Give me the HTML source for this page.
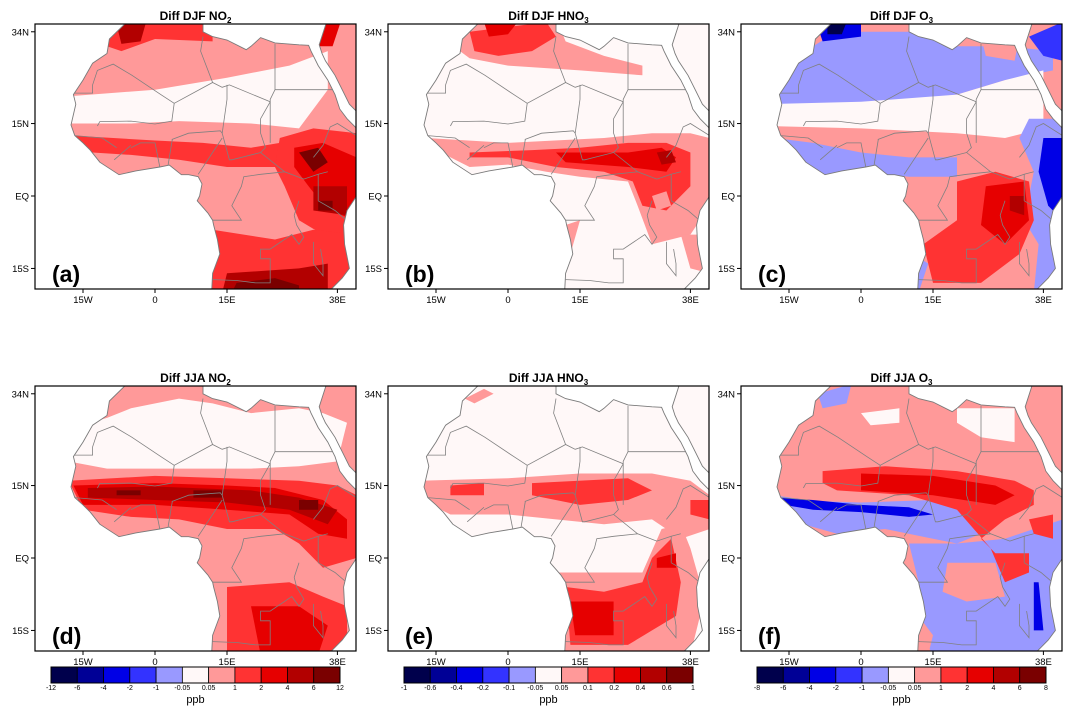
<!DOCTYPE html>
<html><head><meta charset="utf-8">
<style>
html,body{margin:0;padding:0;background:#fff;}
svg{display:block;font-family:"Liberation Sans","DejaVu Sans",sans-serif;}
</style></head>
<body>
<svg id="fig" width="1073" height="717" viewBox="0 0 1073 717" xmlns="http://www.w3.org/2000/svg"></svg>
<script>
// ---- data ----
const levelColors=["#00004c","#000096","#0000e6","#3333ff","#9999ff","#fff8f8","#ff9999","#ff3333","#e60000","#b20000","#7a0000"];
const latTicks=[34,15,0,-15];
const latTickLabels=["34N","15N","EQ","15S"];
const lonTicks=[-15,0,15,38];
const lonTickLabels=["15W","0","15E","38E"];
const cbLabelsNO2=["-12","-6","-4","-2","-1","-0.05","0.05","1","2","4","6","12"];
const cbLabelsHNO3=["-1","-0.6","-0.4","-0.2","-0.1","-0.05","0.05","0.1","0.2","0.4","0.6","1"];
const cbLabelsO3=["-8","-6","-4","-2","-1","-0.05","0.05","1","2","4","6","8"];
const africa=[[-6,35.9],[-9.5,32.5],[-10,29.5],[-13,27.5],[-15,24],[-17,21],[-16.5,19],[-17.5,14.7],[-16.7,12.5],[-15,11],[-13.5,9.5],[-11.5,7],[-7.5,4.4],[-4,5.2],[1,6],[3,6.4],[5.5,4.4],[7,4.4],[9,4],[9.8,2.5],[9.3,0],[8.8,-1],[11,-3.5],[12,-5],[12.2,-6],[13,-9],[13.5,-12],[12,-16],[11.8,-20],[36,-20],[39,-17],[40.5,-15],[39.5,-10],[39.3,-6],[40,-3],[42,0],[42,14],[40,16],[38.5,18],[37.5,21],[36,24],[34,27],[32.5,30],[32,31.2],[30,31.3],[25,31.7],[22,32.8],[20,31],[19,30.3],[15,32.3],[12,33],[10,34],[10,37],[-6,37]];
const arabia=[[34.2,31.3],[35.9,36.5],[42.5,36.5],[42.5,17],[40.5,19],[39,22],[37.5,25],[35.5,28],[34.8,29.5]];
const borders=[
 [[-17,21.3],[-13,21.3],[-13,23],[-12,26],[-8.7,27.3],[-4.8,25],[1.2,21],[4,19.2],[12,23.5],[14,22.5],[15.5,23],[24,19.5],[24,20],[25,22],[25,31.5]],
 [[25,22],[37,22]],
 [[4,19.2],[3.5,15.5],[0,14.9],[-5,15.5],[-11.5,15.4],[-12,14.5]],
 [[3.5,11.7],[7,13],[13.6,13.5],[14,13]],
 [[24,19.5],[22,16],[22,13],[23,10],[22,9]],
 [[14,13],[15.5,7.5],[16,7.5],[22,9],[27,5],[31,3.5],[34,4.5],[36,5]],
 [[12,-5],[18,-5],[16,-2],[18,2],[18.5,4],[22,4.5],[27,5]],
 [[30,-1],[29,-4],[29.5,-6],[31,-8.5],[30,-10],[28.5,-8],[24,-11],[22,-11],[22,-13],[24,-13],[24,-18],[21,-18],[17,-17.5],[12,-17.3]],
 [[34,-1],[37.5,-3],[39.5,-4.7]],[[34,4.5],[34,-1]],
 [[33,-9.5],[33,-14],[35,-16.5],[35,-14],[34.5,-11]],
 [[33,8],[35,10.5],[36.5,14.3],[38,15],[42,12.5]],
 [[12,23.5],[9.5,30],[10,33]],
 [[-5,10],[-3,11],[0,11],[1,6]],[[-8.5,7.5],[-5,10.5]],[[2.7,6.3],[3.6,11.7]],[[9,4.5],[14,12]],
 [[-8,10],[-11,12],[-16.7,12.5]],[[15,23],[15,20],[14,13]],[[24,19.5],[24,11]]
];
const shapesA=[
 [5,[[-20,20.5],[0,22],[15,24.5],[28,27],[36,30],[36,22],[30,14],[20,15],[5,15.5],[-5,15],[-20,15]]],
 [7,[[-10,37],[12,37],[12,32],[0,32.5],[-7,30],[-10,31]]],
 [9,[[-8,35.5],[-2,35.5],[-3,32],[-7,31.5]]],
 [7,[[-17,12.5],[0,11.5],[10,11],[20,10],[26,11],[26,6],[15,6],[5,7.5],[-5,8.5],[-13,9]]],
 [7,[[26,12],[33,14],[42,13],[42,-10],[35,-8],[30,-5],[27,2],[25,6]]],
 [8,[[29,10],[35,11],[42,8],[42,-5],[36,-3],[32,2],[29,6]]],
 [10,[[30,9],[34,10],[36,7],[33,5]]],
 [9,[[33,2],[40,2],[40,-4],[33,-3]]],
 [10,[[34,-1],[37,-1],[37,-3],[34,-3]]],
 [7,[[12,-7],[25,-9],[33,-7],[42,-8],[42,-20],[10,-20]]],
 [9,[[15,-16],[30,-15],[36,-14],[36,-20],[14,-20]]],
 [10,[[17,-18],[25,-17],[30,-18.5],[30,-20],[16,-20]]],
 [8,[[34,31],[36,37],[39,37],[37,31]]]
];
const shapesB=[
 [6,[[-10,36],[10,37],[12,32],[20,29],[28,27],[28,25],[15,26],[0,27],[-8,28.5],[-10,30]]],
 [7,[[-8,34],[8,36],[10,33],[5,30],[-2,29],[-7,30]]],
 [8,[[-5,36],[2,36],[0,33.5],[-4,33]]],
 [6,[[-17,12],[0,11],[20,12],[30,13],[38,13],[42,12],[42,-2],[38,-8],[30,-10],[27,-2],[25,3],[15,4],[8,5],[0,6.5],[-8,6],[-14,9]]],
 [7,[[-8,9],[5,9.5],[15,10],[25,11],[33,11],[38,9],[38,2],[33,-3],[28,-2],[26,3],[20,5],[10,6],[0,8],[-8,8]]],
 [8,[[10,9],[25,9],[32,10],[35,8],[33,5],[25,6],[12,7]]],
 [9,[[31,9],[34,9.5],[35,7],[32,6.5]]],
 [6,[[30,0],[33,1],[34,-2],[31,-3]]],
 [6,[[12,-6],[15,-5],[13,-12],[11,-13]]],
 [6,[[36,-8],[42,-8],[42,-16],[38,-15]]]
];
const shapesC=[
 [4,[[-20,22],[-17,28],[-10,31],[-5,34],[10,34],[20,31],[30,31],[40,30],[40,26],[30,24],[20,21],[10,20],[0,19],[-10,18.5],[-20,19]]],
 [5,[[-20,19],[0,19.5],[20,21],[30,24],[38,26],[38,14],[30,12],[20,13],[0,14],[-20,14.5]]],
 [6,[[25,33],[33,33],[32,28],[26,29]]],
 [2,[[-9,35],[0,36.5],[0,33],[-8,32]]],
 [0,[[-7,36],[-3,36],[-4,33.5],[-7,33.5]]],
 [4,[[-18,12],[-10,11],[0,9],[10,8],[20,8],[20,4],[10,4],[0,5],[-8,4],[-15,8]]],
 [4,[[35,16],[42,16],[42,-20],[36,-20],[37,-10],[34,-5],[36,5],[33,12]]],
 [2,[[38,12],[42,12],[42,-5],[39,-2],[37,5]]],
 [7,[[20,3],[28,5],[35,3],[36,-5],[33,-12],[25,-18],[15,-18],[13,-10],[20,-5]]],
 [8,[[26,2],[34,3],[35,-5],[30,-10],[25,-6]]],
 [9,[[31,0],[34,0],[34,-4],[31,-3]]],
 [4,[[11,-12],[14,-14],[12,-20],[11,-20]]],
 [3,[[35,33],[42,36],[42,28],[38,29]]]
];
const shapesD=[
 [5,[[-18,20],[-17,27],[-10,29],[-5,31],[5,33],[12,32],[20,30],[30,31],[35,30],[40,28],[38,20],[30,19],[20,18.5],[5,18.5],[-10,18.5]]],
 [7,[[-18,16],[0,17],[15,16.5],[30,16],[38,15],[42,13],[42,0],[35,-2],[30,3],[25,6],[15,6],[5,8],[-5,8.5],[-15,10]]],
 [8,[[-17,15],[0,15.5],[15,15],[25,14.5],[35,12],[40,8],[40,4],[34,5],[28,9],[15,10],[0,11],[-15,11]]],
 [9,[[-14,14.5],[0,14.8],[20,14],[30,12.5],[38,10],[36,7],[28,10],[15,11.5],[0,12],[-14,12.5]]],
 [10,[[-8,14],[-3,14],[-3,13],[-8,13]]],
 [10,[[8,14],[14,14],[14,12.5],[8,12.5]]],
 [10,[[30,12],[34,12],[34,10],[30,10]]],
 [7,[[15,-6],[28,-5],[35,-8],[40,-10],[40,-20],[15,-20]]],
 [8,[[20,-10],[30,-10],[36,-14],[34,-20],[22,-20]]]
];
const shapesE=[
 [6,[[-9,33],[-5,35],[-3,34],[-7,32]]],
 [6,[[-18,16],[0,16.5],[15,17.5],[30,17.5],[38,16],[42,13],[42,6],[36,4],[30,8],[20,7],[10,8],[0,9],[-12,9],[-18,12]]],
 [7,[[-12,15],[-5,15.5],[-5,13],[-12,13]]],
 [7,[[5,15.5],[25,16.5],[30,14],[25,12],[15,11],[5,13]]],
 [7,[[38,12],[42,12],[42,8],[38,9]]],
 [6,[[10,-3],[20,-3],[28,-3],[32,6],[36,7],[38,2],[40,-5],[40,-12],[38,-20],[12,-20]]],
 [7,[[12,-6],[20,-7],[28,-5],[30,0],[34,4],[36,-5],[35,-12],[30,-15],[25,-18],[13,-18]]],
 [8,[[13,-9],[22,-9],[22,-16],[14,-16]]],
 [8,[[31,0],[35,1],[35,-2],[31,-2]]]
];
const shapesF=[
 [5,[[20,31],[32,31],[32,24],[25,25],[20,28]]],
 [5,[[0,30],[8,31],[8,28],[2,27.5]]],
 [4,[[-9,34],[-2,36],[-3,32],[-8,31]]],
 [4,[[-18,13],[-10,11.8],[0,11.5],[15,12],[25,9],[25,5],[20,3],[15,4],[5,6],[-5,5],[-12,7],[-18,10]]],
 [2,[[-17,12.5],[-10,12],[0,11],[10,10.5],[15,9],[10,8.5],[0,9.5],[-10,10],[-16,11]]],
 [4,[[10,3],[20,3],[30,4],[36,6],[42,8],[42,-20],[15,-20],[12,-15],[12,-5]]],
 [6,[[18,-1],[28,-1],[30,-8],[22,-9],[17,-7]]],
 [6,[[12,-12],[15,-16],[14,-20],[11,-20]]],
 [7,[[-8,18],[5,19],[20,18],[32,16],[36,14],[36,11],[30,8],[25,4],[28,1],[35,1],[35,-3],[30,-5],[27,2],[20,10],[10,13],[-5,14],[-8,15.5]]],
 [8,[[0,17.5],[15,17],[28,15],[32,13],[28,11],[15,13],[0,14]]],
 [7,[[35,8],[40,9],[40,4],[36,5]]],
 [2,[[36,-5],[37,-5],[38,-15],[36,-15]]]
];
const panels=[
 {id:"a",x:35,y:24,species:"NO",sub:"2",season:"DJF",base:6,shapes:shapesA,cb:null},
 {id:"b",x:388,y:24,species:"HNO",sub:"3",season:"DJF",base:5,shapes:shapesB,cb:null},
 {id:"c",x:741,y:24,species:"O",sub:"3",season:"DJF",base:6,shapes:shapesC,cb:null},
 {id:"d",x:35,y:386,species:"NO",sub:"2",season:"JJA",base:6,shapes:shapesD,cb:cbLabelsNO2},
 {id:"e",x:388,y:386,species:"HNO",sub:"3",season:"JJA",base:5,shapes:shapesE,cb:cbLabelsHNO3},
 {id:"f",x:741,y:386,species:"O",sub:"3",season:"JJA",base:6,shapes:shapesF,cb:cbLabelsO3}
];
// ---- projection ----
const W=321,H=265;
function px(lon){return 120+lon*4.8;}
function py(lat){return 172-lat*4.83;}
const NS="http://www.w3.org/2000/svg";
const svg=document.getElementById("fig");
function mk(tag,attrs,parent){const e=document.createElementNS(NS,tag);for(const k in attrs)e.setAttribute(k,attrs[k]);(parent||svg).appendChild(e);return e;}
function pts(arr){return arr.map(p=>px(p[0]).toFixed(1)+","+py(p[1]).toFixed(1)).join(" ");}
const defs=mk("defs",{});
panels.forEach(p=>{
  const cp=mk("clipPath",{id:"land-"+p.id},defs);
  mk("polygon",{points:pts(africa)},cp);
  mk("polygon",{points:pts(arabia)},cp);
  const fr=mk("clipPath",{id:"frame-"+p.id},defs);
  mk("rect",{x:0,y:0,width:W,height:H},fr);

  const g=mk("g",{transform:`translate(${p.x},${p.y})`});
  
  
  const outer=mk("g",{"clip-path":`url(#frame-${p.id})`},g);
  const land=mk("g",{"clip-path":`url(#land-${p.id})`},outer);
  const bg=mk("rect",{x:-10,y:-10,width:W+20,height:H+20,fill:levelColors[p.base]},land);
  
  
  p.shapes.forEach(s=>{
    const sh=mk("polygon",{points:pts(s[1]),fill:levelColors[s[0]]},land);
    
    
  });
  borders.forEach(b=>{
    const bl=mk("polyline",{points:pts(b),fill:"none",stroke:"#808080","stroke-width":0.8},land);
    
    
  });
  const c1=mk("polygon",{points:pts(africa),fill:"none",stroke:"#7a7a7a","stroke-width":0.9},outer);
  
  
  const c2=mk("polygon",{points:pts(arabia),fill:"none",stroke:"#7a7a7a","stroke-width":0.9},outer);
  
  
  const frame=mk("rect",{x:0,y:0,width:W,height:H,fill:"none",stroke:"#000","stroke-width":1.2},g);
  
  
  const t=mk("text",{x:W/2,y:-4,"text-anchor":"middle","font-size":12,"font-weight":"bold"},g);
  
  
  t.appendChild(document.createTextNode(`Diff ${p.season} ${p.species}`));
  const ts=mk("tspan",{"font-size":8,dy:3},t);ts.textContent=p.sub;
  const L=mk("text",{x:17,y:258,"font-size":23,"font-weight":"bold"},g);
  
  
  L.textContent="("+p.id+")";
  latTicks.forEach((lat,i)=>{
    const y=py(lat);
    mk("line",{x1:-4,x2:0,y1:y,y2:y,stroke:"#000","stroke-width":1},g);
    const tl=mk("text",{x:-6,y:y+3.5,"text-anchor":"end","font-size":9.5},g);
    
    
    tl.textContent=latTickLabels[i];
  });
  lonTicks.forEach((lon,i)=>{
    const x=px(lon);
    mk("line",{x1:x,x2:x,y1:H,y2:H+4,stroke:"#000","stroke-width":1},g);
    const tl=mk("text",{x:x,y:H+14,"text-anchor":"middle","font-size":9.5},g);
    
    
    tl.textContent=lonTickLabels[i];
  });
  if(p.cb){
    const cx=p.x+16,cy=667,cw=289,ch=16,n=levelColors.length,cwid=cw/n;
    const cb=mk("g",{});
    
    
    levelColors.forEach((c,i)=>{
      const r=mk("rect",{x:cx+i*cwid,y:cy,width:cwid,height:ch,fill:c,stroke:"#000","stroke-width":0.8},cb);
      
      
    });
    mk("rect",{x:cx,y:cy,width:cw,height:ch,fill:"none",stroke:"#000","stroke-width":1},cb);
    p.cb.forEach((lab,i)=>{
      const tl=mk("text",{x:cx+i*cwid,y:cy+ch+7,"text-anchor":"middle","font-size":7},cb);
      
      
      tl.textContent=lab;
    });
    const u=mk("text",{x:cx+cw/2,y:cy+ch+20,"text-anchor":"middle","font-size":11},cb);
    
    
    u.textContent="ppb";
  }
});
</script>
</body></html>
